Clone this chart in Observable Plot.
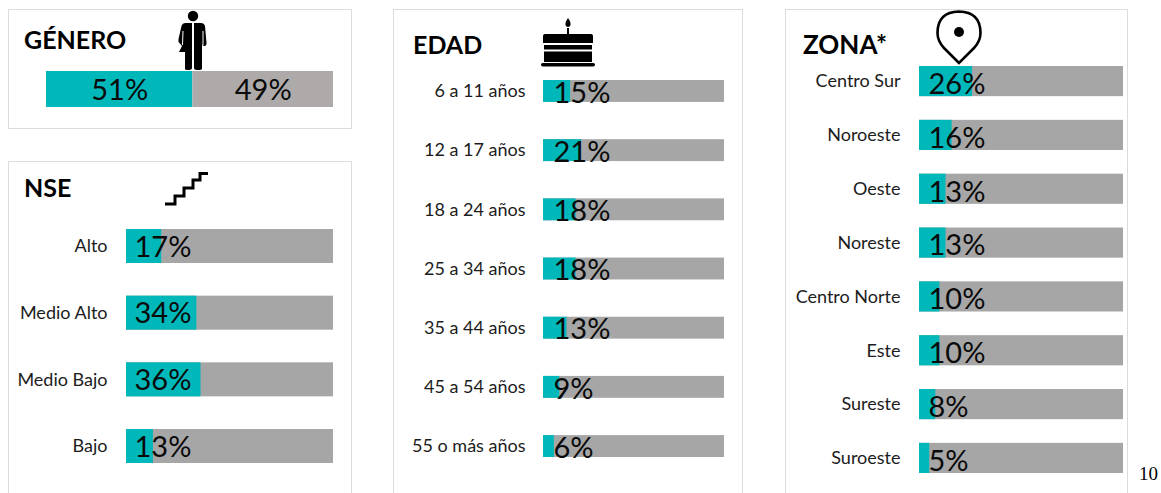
<!DOCTYPE html>
<html lang="es">
<head>
<meta charset="utf-8">
<script src="https://cdn.jsdelivr.net/npm/d3@7"></script>
<script src="https://cdn.jsdelivr.net/npm/@observablehq/plot@0.6"></script>
<style>
html,body{margin:0;padding:0;background:#fff;overflow:hidden}
#page{position:relative;width:1161px;height:493px;overflow:hidden;font-family:Lato,"Open Sans",sans-serif;color:#000}
.box{position:absolute;box-sizing:border-box;border:1px solid #dcdcdc;background:#fff}
.open{border-bottom:none}
.title{position:absolute;font-weight:700;font-size:25px;line-height:30px;white-space:nowrap}
.holder{position:absolute}
.holder svg{display:block;overflow:visible;background:transparent}
.icon{position:absolute;overflow:visible}
#pageno{position:absolute;left:1139px;top:463px;font:19px "Liberation Serif",serif}
</style>
</head>
<body>
<div id="page">
  <div class="box" style="left:8px;top:9px;width:344px;height:120px"></div>
  <div class="box open" style="left:8px;top:161px;width:344px;height:332px"></div>
  <div class="box open" style="left:393px;top:9px;width:350px;height:484px"></div>
  <div class="box open" style="left:785px;top:9px;width:343px;height:484px"></div>

  <div class="title" style="left:24px;top:24px">GÉNERO</div>
  <div class="title" style="left:24px;top:172px">NSE</div>
  <div class="title" style="left:413px;top:29px">EDAD</div>
  <div class="title" style="left:803px;top:29px;font-size:26px">ZONA*</div>

  <!-- persona: mitad mujer, mitad hombre -->
  <svg class="icon" style="left:176px;top:9px" width="34" height="62" viewBox="0 0 34 62">
    <circle cx="17" cy="7" r="5.2" fill="#000"/>
    <path fill="#000" d="M16 14H9.5Q6.5 14 5.5 17L2.5 30Q2 33 3.500 34L6 37L3 43H9V60Q9 61 11.5 61Q16 61 16 59Z"/>
    <path fill="#000" d="M18 14H25Q28 14 29 17L30.5 34Q30.5 37 28.5 37Q26.5 37 26 35V59.5Q26 61 22 61Q18 61 18 59Z"/>
    <path stroke="#fff" stroke-width="1" fill="none" d="M7 22L6.5 36M27 22L27 36"/>
  </svg>

  <!-- escalera -->
  <svg class="icon" style="left:164px;top:171px" width="46" height="36" viewBox="0 0 46 36">
    <path fill="none" stroke="#000" stroke-width="3" d="M1 33H11V25H20V17H29V9H36V2.5H44"/>
  </svg>

  <!-- pastel -->
  <svg class="icon" style="left:540px;top:16px" width="56" height="52" viewBox="0 0 56 52">
    <path fill="#000" d="M28 2Q31 6 30.5 9Q30 11 28 11Q26 11 25.5 9Q25 6 28 2Z"/>
    <rect x="27" y="12" width="2" height="7" fill="#000"/>
    <path fill="#000" d="M3 20Q3 18 5 18H51Q53 18 53 20V27H3Z"/>
    <path fill="none" stroke="#fff" stroke-width="1" stroke-dasharray="3 1" d="M4 27.5H52"/>
    <rect x="4" y="29" width="48" height="4.5" fill="#000"/>
    <rect x="4" y="35.5" width="48" height="10.5" fill="#000"/>
    <rect x="1" y="47" width="54" height="3.5" rx="1.7" fill="#000"/>
  </svg>

  <!-- marcador -->
  <svg class="icon" style="left:935px;top:10px" width="48" height="55" viewBox="0 0 48 55">
    <path fill="none" stroke="#000" stroke-width="2.6" d="M24 53L9 38Q2.500 31 2.500 23Q2.500 2 24 1.500Q45.500 2 45.500 23Q45.500 31 39 38Z"/>
    <circle cx="24" cy="22" r="5" fill="#000"/>
  </svg>

  <div id="pageno">10</div>
</div>
<script>
// GÉNERO
const generoSeries = ["Mujeres", "Hombres"];
const generoValues = [51, 49];
// NSE
const nseCategories = ["Alto", "Medio Alto", "Medio Bajo", "Bajo"];
const nseValues = [17, 34, 36, 13];
// EDAD
const edadCategories = ["6 a 11 años", "12 a 17 años", "18 a 24 años", "25 a 34 años", "35 a 44 años", "45 a 54 años", "55 o más años"];
const edadValues = [15, 21, 18, 18, 13, 9, 6];
// ZONA
const zonaCategories = ["Centro Sur", "Noroeste", "Oeste", "Noreste", "Centro Norte", "Este", "Sureste", "Suroeste"];
const zonaValues = [26, 16, 13, 13, 10, 10, 8, 5];

const TEAL = "#00B8BA", GRAY = "#A6A6A6", GENDER_GRAY = "#AEAAAA";
const FONT = "Lato, 'Open Sans', sans-serif";
const page = document.getElementById("page");

function place(svg, left, top) {
  const h = document.createElement("div");
  h.className = "holder";
  h.style.left = left + "px";
  h.style.top = top + "px";
  h.appendChild(svg);
  page.appendChild(h);
}

function panel(cats, vals, o) {
  const rows = cats.map((c, i) => ({c, v: vals[i]}));
  const svg = Plot.plot({
    width: o.barRight - o.left,
    height: o.bottom - o.top,
    marginLeft: o.barLeft - o.left,
    marginRight: 0, marginTop: 0, marginBottom: 0,
    style: {fontFamily: FONT, background: "transparent", overflow: "visible"},
    x: {domain: [0, 100], axis: null},
    y: {domain: cats, paddingInner: o.pad, paddingOuter: 0, align: 0.5, round: false, label: null},
    marks: [
      Plot.axisY({tickSize: 0, tickPadding: o.tickPad, fontSize: 18, fill: "#1c1c1c", label: null, textOverflow: null}),
      Plot.barX(rows, {x1: 0, x2: 100, y: "c", fill: GRAY}),
      Plot.barX(rows, {x1: 0, x2: "v", y: "c", fill: TEAL}),
      Plot.text(rows, {x: 0, y: "c", dx: o.textDx, dy: o.textDy, text: d => d.v + "%", textAnchor: "start", fontSize: 29, fill: "#0a0a0a"})
    ]
  });
  place(svg, o.left, o.top);
}

// GÉNERO: barra apilada
{
  const rows = generoSeries.map((s, i) => ({s, v: generoValues[i], band: "Total"}));
  const svg = Plot.plot({
    width: 287, height: 36,
    margin: 0,
    style: {fontFamily: FONT, background: "transparent", overflow: "visible"},
    x: {domain: [0, 100], axis: null},
    y: {domain: ["Total"], padding: 0, axis: null},
    color: {domain: generoSeries, range: [TEAL, GENDER_GRAY]},
    marks: [
      Plot.barX(rows, Plot.stackX({x: "v", y: "band", fill: "s", order: null})),
      Plot.text(rows, Plot.stackX({x: "v", y: "band", text: d => d.v + "%", order: null, fontSize: 29, dy: 1, fill: "#0a0a0a"}))
    ]
  });
  place(svg, 46, 71);
}

panel(nseCategories, nseValues, {left: 9, barLeft: 126, barRight: 333, top: 229, bottom: 463, pad: 0.49, tickPad: 19, textDx: 8, textDy: 1});
panel(edadCategories, edadValues, {left: 394, barLeft: 543, barRight: 724, top: 80, bottom: 457, pad: 0.63, tickPad: 18, textDx: 10, textDy: 2});
panel(zonaCategories, zonaValues, {left: 786, barLeft: 919, barRight: 1123, top: 66, bottom: 473, pad: 0.44, tickPad: 19, textDx: 9, textDy: 3});
</script>
</body>
</html>
